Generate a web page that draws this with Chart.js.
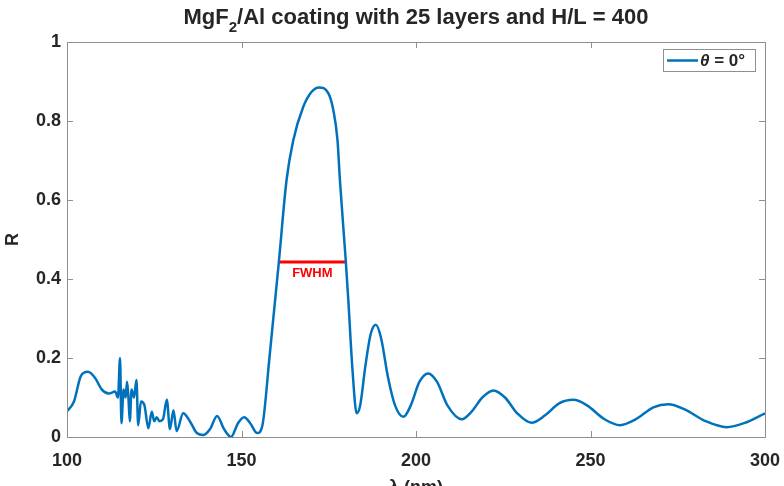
<!DOCTYPE html>
<html>
<head>
<meta charset="utf-8">
<script src="https://cdn.jsdelivr.net/npm/chart.js@4.4.0/dist/chart.umd.min.js"></script>
<style>
    html, body { margin: 0; padding: 0; background: #fff; }
    #wrap { width: 784px; height: 486px; position: relative; }
</style>
</head>
<body>
<div id="wrap"><canvas id="reflChart" width="784" height="486"></canvas></div>
<script>
// wavelength (nm) and reflectance
const lambda = [
    100, 102, 104, 106, 108, 110, 112, 113.8, 114.6, 115.2, 115.6, 116.2, 116.8, 117.2, 117.6, 118,
    118.5, 119.2, 119.9, 120.4, 121.2, 122.2, 123.3, 124.3, 125, 125.7, 126.5, 127.5, 128.6, 129.5,
    130.5, 131.4, 133.3, 135.2, 137.2, 139.1, 141, 143, 145, 147, 149, 150.8, 152.5, 154.5, 156,
    158, 160.7, 162.9, 164.8, 167.7, 170.1, 172.2, 174.9, 176.3, 177.5, 178.2, 179.9, 180.6, 181.8,
    183, 184, 185.5, 187, 188.5, 190, 192, 194, 196.4, 198.5, 201, 203.5, 206, 209, 213.1, 216, 219,
    222.2, 225.5, 229, 233.1, 237, 241, 245.1, 249, 254, 258.5, 263, 268, 272.3, 277, 283, 289, 294, 300
];
const reflectance = [
    0.065, 0.09, 0.155, 0.165, 0.15, 0.12, 0.11, 0.115, 0.10, 0.2, 0.035, 0.12, 0.10, 0.14, 0.10, 0.04,
    0.12, 0.10, 0.144, 0.03, 0.09, 0.08, 0.022, 0.064, 0.04, 0.05, 0.04, 0.045, 0.094, 0.02,
    0.068, 0.015, 0.06, 0.04, 0.01, 0.005, 0.02, 0.053, 0.02, 0.0, 0.035, 0.05, 0.035, 0.01, 0.03,
    0.2, 0.443, 0.65, 0.75, 0.836, 0.874, 0.885, 0.87, 0.828, 0.752, 0.65, 0.443, 0.347, 0.17,
    0.06, 0.08, 0.18, 0.26, 0.284, 0.25, 0.15, 0.08, 0.051, 0.08, 0.14, 0.161, 0.14, 0.08, 0.045, 0.065, 0.1,
    0.118, 0.1, 0.06, 0.036, 0.055, 0.085, 0.094, 0.08, 0.045, 0.03, 0.045, 0.075, 0.083, 0.07, 0.04, 0.025, 0.035, 0.06
];
const fwhmLambda = [160.7, 179.9];
const fwhmR = [0.443, 0.443];
const xTicks = [100, 150, 200, 250, 300];
const yTicks = [0, 0.2, 0.4, 0.6, 0.8, 1];
const seriesLabel = '\u03B8 = 0\u00B0';

const lineBlue = '#0072BD';
const textColor = '#262626';
const boxColor = '#8f8f8f';
const fontFamily = '"Liberation Sans", Arial, Helvetica, sans-serif';

// MATLAB-style box, inward ticks, title, axis labels, legend and FWHM note
const matlabLook = {
    id: 'matlabLook',
    afterDraw(chart) {
        const ctx = chart.ctx;
        const area = chart.chartArea;
        const xs = chart.scales.x;
        const ys = chart.scales.y;
        ctx.save();

        // box
        ctx.strokeStyle = boxColor;
        ctx.lineWidth = 1;
        ctx.strokeRect(Math.round(area.left) + 0.5, Math.round(area.top) + 0.5,
            Math.round(area.right - area.left), Math.round(area.bottom - area.top));

        // inward ticks
        const tl = 6;
        ctx.beginPath();
        xTicks.forEach(v => {
            const px = Math.round(xs.getPixelForValue(v)) + 0.5;
            ctx.moveTo(px, area.bottom); ctx.lineTo(px, area.bottom - tl);
            ctx.moveTo(px, area.top); ctx.lineTo(px, area.top + tl);
        });
        yTicks.forEach(v => {
            const py = Math.round(ys.getPixelForValue(v)) + 0.5;
            ctx.moveTo(area.left, py); ctx.lineTo(area.left + tl, py);
            ctx.moveTo(area.right, py); ctx.lineTo(area.right - tl, py);
        });
        ctx.stroke();

        // title with subscript
        const cx = (area.left + area.right) / 2;
        const big = 'bold 22px ' + fontFamily;
        const small = 'bold 15px ' + fontFamily;
        const p1 = 'MgF', p2 = '2', p3 = '/Al coating with 25 layers and H/L = 400';
        ctx.fillStyle = textColor;
        ctx.textBaseline = 'alphabetic';
        ctx.textAlign = 'left';
        ctx.font = big;
        const w1 = ctx.measureText(p1).width, w3 = ctx.measureText(p3).width;
        ctx.font = small;
        const w2 = ctx.measureText(p2).width;
        let tx = cx - (w1 + w2 + w3) / 2;
        const ty = 24;
        ctx.font = big; ctx.fillText(p1, tx, ty); tx += w1;
        ctx.font = small; ctx.fillText(p2, tx, ty + 8); tx += w2;
        ctx.font = big; ctx.fillText(p3, tx, ty);

        // axis titles
        ctx.font = 'bold 18px ' + fontFamily;
        ctx.textAlign = 'center';
        ctx.textBaseline = 'top';
        ctx.fillText('\u03BB (nm)', cx, 479);
        ctx.save();
        ctx.translate(13, (area.top + area.bottom) / 2);
        ctx.rotate(-Math.PI / 2);
        ctx.textBaseline = 'middle';
        ctx.fillText('R', 0, 0);
        ctx.restore();

        // FWHM label under the red bar
        const fx = xs.getPixelForValue((fwhmLambda[0] + fwhmLambda[1]) / 2);
        const fy = ys.getPixelForValue(fwhmR[0]);
        ctx.fillStyle = '#ff0000';
        ctx.font = 'bold 13px ' + fontFamily;
        ctx.textAlign = 'center';
        ctx.textBaseline = 'middle';
        ctx.fillText('FWHM', fx, fy + 11);

        // legend
        const lw = 92, lh = 22;
        const lx = area.right - 10 - lw, ly = area.top + 7;
        ctx.fillStyle = '#fff';
        ctx.fillRect(lx, ly, lw, lh);
        ctx.strokeStyle = boxColor;
        ctx.lineWidth = 1;
        ctx.strokeRect(lx + 0.5, ly + 0.5, lw, lh);
        ctx.strokeStyle = lineBlue;
        ctx.lineWidth = 2.5;
        ctx.beginPath();
        ctx.moveTo(lx + 4, ly + lh / 2 + 0.5);
        ctx.lineTo(lx + 35, ly + lh / 2 + 0.5);
        ctx.stroke();
        ctx.fillStyle = textColor;
        ctx.textAlign = 'left';
        ctx.font = 'italic bold 17px ' + fontFamily;
        ctx.fillText('\u03B8', lx + 37, ly + lh / 2 + 1);
        const thW = ctx.measureText('\u03B8').width;
        ctx.font = 'bold 17px ' + fontFamily;
        ctx.fillText(' = 0\u00B0', lx + 37 + thW, ly + lh / 2 + 1);

        ctx.restore();
    }
};

document.addEventListener('DOMContentLoaded', function() {
    const ctx = document.getElementById('reflChart').getContext('2d');
    new Chart(ctx, {
        type: 'line',
        data: {
            datasets: [{
                label: seriesLabel,
                data: lambda.map((l, i) => ({ x: l, y: reflectance[i] })),
                borderColor: lineBlue,
                borderWidth: 2.5,
                pointRadius: 0,
                cubicInterpolationMode: 'monotone',
                fill: false
            }, {
                label: 'FWHM',
                data: fwhmLambda.map((l, i) => ({ x: l, y: fwhmR[i] })),
                borderColor: '#ff0000',
                borderWidth: 3,
                pointRadius: 0,
                fill: false
            }]
        },
        options: {
            responsive: false,
            animation: false,
            layout: { padding: { left: 0, right: 19, top: 42, bottom: 0 } },
            plugins: {
                legend: { display: false },
                title: { display: false },
                tooltip: { enabled: false }
            },
            scales: {
                x: {
                    type: 'linear',
                    min: 100,
                    max: 300,
                    afterFit: s => { s.height = 49; s.paddingLeft = 0; s.paddingRight = 0; },
                    afterBuildTicks: s => { s.ticks = xTicks.map(v => ({ value: v })); },
                    grid: { display: false, drawTicks: false },
                    border: { display: false },
                    ticks: {
                        color: textColor,
                        padding: 13,
                        maxRotation: 0,
                        font: { family: fontFamily, size: 18, weight: 'bold' }
                    }
                },
                y: {
                    min: 0,
                    max: 1,
                    afterFit: s => { s.width = 67; s.paddingTop = 0; s.paddingBottom = 0; },
                    afterBuildTicks: s => { s.ticks = yTicks.map(v => ({ value: v })); },
                    grid: { display: false, drawTicks: false },
                    border: { display: false },
                    ticks: {
                        color: textColor,
                        padding: 6,
                        callback: v => String(v),
                        font: { family: fontFamily, size: 18, weight: 'bold' }
                    }
                }
            }
        },
        plugins: [matlabLook]
    });
});
</script>
</body>
</html>
